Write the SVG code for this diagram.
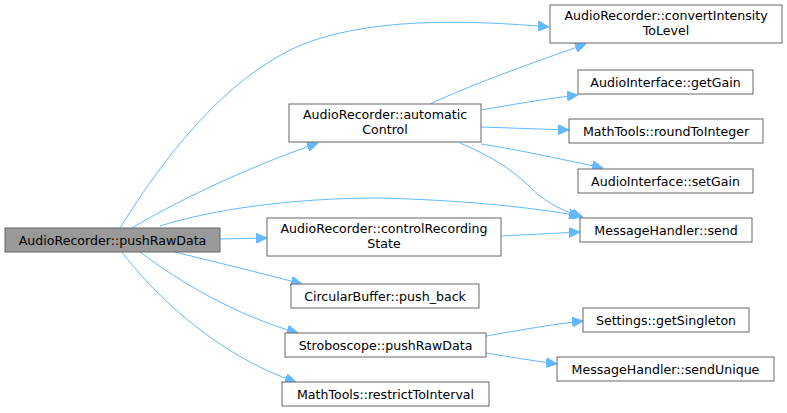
<svg xmlns="http://www.w3.org/2000/svg" width="787" height="413" viewBox="0 0 787 413">
<style>
.n rect{fill:#fff;stroke:#666;stroke-width:1}
.root rect{fill:#999;stroke:#666}
text{font-family:"DejaVu Sans",sans-serif;font-size:12.6px;fill:#000;text-anchor:middle}
.e path{fill:none;stroke:#63b8ff;stroke-width:1}
</style>
<defs>
<marker id="ah" viewBox="0 0 11 10" refX="11" refY="5" markerWidth="11" markerHeight="10" markerUnits="userSpaceOnUse" orient="auto">
<path d="M0,0 L11,5 L0,10 z" fill="#63b8ff" stroke="#63b8ff"/>
</marker>
</defs>
<g class="e" id="edges" marker-end="url(#ah)">
<path d="M120,228 C150,180 210,90 290,50 C360,16 470,20 549,27" marker-end="url(#ah)"/>
<path d="M132,228 C170,205 240,170 318,143" marker-end="url(#ah)"/>
<path d="M430,104 C470,85 540,60 586,44" marker-end="url(#ah)"/>
<path d="M481,110 C510,105 550,98 578,95" marker-end="url(#ah)"/>
<path d="M481,127 C510,128 540,129 569,130" marker-end="url(#ah)"/>
<path d="M481,144 C520,150 565,160 603,168" marker-end="url(#ah)"/>
<path d="M460,143 C490,156 510,168 528,185 C545,203 565,212 583,217" marker-end="url(#ah)"/>
<path d="M160,226 C210,210 290,198 380,198 C460,200 530,207 580,216" marker-end="url(#ah)"/>
<path d="M220,239 L267,238" marker-end="url(#ah)"/>
<path d="M501,236 L580,232" marker-end="url(#ah)"/>
<path d="M175,252 C215,262 265,274 302,284" marker-end="url(#ah)"/>
<path d="M140,252 C180,282 235,315 298,333" marker-end="url(#ah)"/>
<path d="M122,252 C150,290 215,355 296,382" marker-end="url(#ah)"/>
<path d="M486,336 C520,330 555,324 583,321" marker-end="url(#ah)"/>
<path d="M486,353 C510,357 535,361 557,364" marker-end="url(#ah)"/>
</g>
<g class="n root" id="node1"><rect x="5" y="228" width="215" height="24"/><text x="112.5" y="244.5">AudioRecorder::pushRawData</text></g>
<g class="n" id="node2"><rect x="289" y="104" width="192" height="38"/><text x="385" y="119">AudioRecorder::automatic</text><text x="385" y="134">Control</text></g>
<g class="n" id="node3"><rect x="550" y="5" width="232" height="38"/><text x="666" y="20">AudioRecorder::convertIntensity</text><text x="666" y="35">ToLevel</text></g>
<g class="n" id="node4"><rect x="578" y="70" width="175" height="24"/><text x="665.5" y="86.5">AudioInterface::getGain</text></g>
<g class="n" id="node5"><rect x="569" y="119" width="194" height="24"/><text x="666" y="135.5">MathTools::roundToInteger</text></g>
<g class="n" id="node6"><rect x="578" y="169" width="175" height="24"/><text x="665.5" y="185.5">AudioInterface::setGain</text></g>
<g class="n" id="node7"><rect x="580" y="218" width="172" height="24"/><text x="666" y="234.5">MessageHandler::send</text></g>
<g class="n" id="node8"><rect x="267" y="218" width="234" height="38"/><text x="384" y="233">AudioRecorder::controlRecording</text><text x="384" y="248">State</text></g>
<g class="n" id="node9"><rect x="291" y="284" width="188" height="24"/><text x="385" y="300.5">CircularBuffer::push_back</text></g>
<g class="n" id="node10"><rect x="285" y="333" width="201" height="24"/><text x="385.5" y="349.5">Stroboscope::pushRawData</text></g>
<g class="n" id="node11"><rect x="282" y="382" width="207" height="24"/><text x="385.5" y="398.5">MathTools::restrictToInterval</text></g>
<g class="n" id="node12"><rect x="583" y="308" width="166" height="24"/><text x="666" y="324.5">Settings::getSingleton</text></g>
<g class="n" id="node13"><rect x="557" y="357" width="217" height="24"/><text x="665.5" y="373.5">MessageHandler::sendUnique</text></g>
</svg>
